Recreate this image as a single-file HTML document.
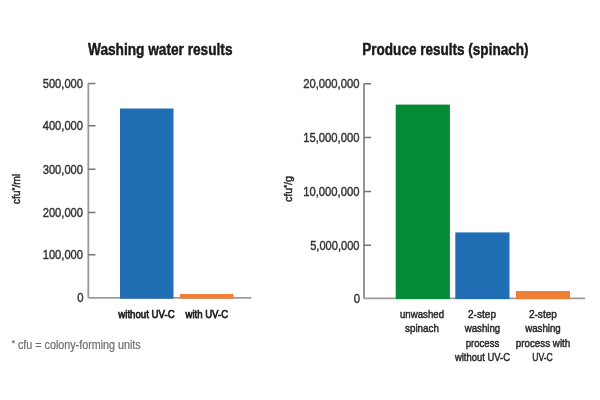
<!DOCTYPE html>
<html><head><meta charset="utf-8">
<style>
html,body{margin:0;padding:0;background:#fff;width:600px;height:400px;overflow:hidden}
svg{display:block;will-change:transform}
text{font-family:"Liberation Sans",sans-serif}
.t{font-weight:bold;font-size:15.6px;fill:#1a1a1a;stroke:#1a1a1a;stroke-width:0.45}
.y{font-size:12.2px;fill:#333;stroke:#333;stroke-width:0.4}
.xb{font-size:11.4px;fill:#222;stroke:#222;stroke-width:0.75}
.x{font-size:11.6px;fill:#2a2a2a;stroke:#2a2a2a;stroke-width:0.5}
.f{font-size:12px;fill:#6d6d6d;stroke:#6d6d6d;stroke-width:0.2}
.axl{stroke:#9a9a9a;stroke-width:1.8;fill:none}
.axr{stroke:#8a8a8a;stroke-width:1.8;fill:none}
.bl{stroke:#9c9c9c;stroke-width:1.8;fill:none}
.tk{stroke:#757575;stroke-width:1.5;fill:none}
</style></head>
<body>
<svg width="600" height="400" viewBox="0 0 600 400">
<rect width="600" height="400" fill="#fff"/>
<path class="axl" d="M88.3,83.5 V297.8"/>
<path class="bl" d="M88.3,297.8 H251.3"/>
<path class="tk" d="M88.3,83.55 H95.5 M88.3,125.7 H95.5 M88.3,169.15 H95.5 M88.3,212.45 H95.5 M88.3,254.7 H95.5"/>
<path class="axr" d="M364,83.75 V298.4"/>
<path class="bl" d="M364,298.4 H585"/>
<path class="tk" d="M364,83.75 H371 M364,137.45 H371 M364,191.45 H371 M364,245.2 H371"/>
<rect x="120" y="108.5" width="53.5" height="190.2" fill="#216eb4"/>
<rect x="180" y="294" width="53.5" height="4.7" fill="#ef7f36"/>
<rect x="395.7" y="104.6" width="54.2" height="194.4" fill="#058b35"/>
<rect x="455.3" y="232.4" width="54.2" height="66.6" fill="#216eb4"/>
<rect x="516" y="291" width="54" height="8" fill="#ef7f36"/>
<text class="t" x="88" y="55.4" textLength="144.5" lengthAdjust="spacingAndGlyphs">Washing water results</text>
<text class="t" x="362.3" y="55.4" textLength="166.2" lengthAdjust="spacingAndGlyphs">Produce results (spinach)</text>
<text class="y" x="83" y="88.05" text-anchor="end" textLength="40.3" lengthAdjust="spacingAndGlyphs">500,000</text>
<text class="y" x="83" y="130.2" text-anchor="end" textLength="40.3" lengthAdjust="spacingAndGlyphs">400,000</text>
<text class="y" x="83" y="173.65" text-anchor="end" textLength="40.3" lengthAdjust="spacingAndGlyphs">300,000</text>
<text class="y" x="83" y="216.95" text-anchor="end" textLength="40.3" lengthAdjust="spacingAndGlyphs">200,000</text>
<text class="y" x="83" y="259.4" text-anchor="end" textLength="40.3" lengthAdjust="spacingAndGlyphs">100,000</text>
<text class="y" x="83.5" y="302.1" text-anchor="end" textLength="6.3" lengthAdjust="spacingAndGlyphs">0</text>
<text class="y" x="359.5" y="88.25" text-anchor="end" textLength="56.3" lengthAdjust="spacingAndGlyphs">20,000,000</text>
<text class="y" x="359.5" y="141.95" text-anchor="end" textLength="56.3" lengthAdjust="spacingAndGlyphs">15,000,000</text>
<text class="y" x="359.5" y="195.95" text-anchor="end" textLength="56.3" lengthAdjust="spacingAndGlyphs">10,000,000</text>
<text class="y" x="359.5" y="249.7" text-anchor="end" textLength="49.3" lengthAdjust="spacingAndGlyphs">5,000,000</text>
<text class="y" x="360" y="302.5" text-anchor="end" textLength="6.3" lengthAdjust="spacingAndGlyphs">0</text>
<text class="xb" x="146.5" y="318" text-anchor="middle" textLength="56.4" lengthAdjust="spacingAndGlyphs">without UV-C</text>
<text class="xb" x="206.8" y="318" text-anchor="middle" textLength="42.6" lengthAdjust="spacingAndGlyphs">with UV-C</text>
<text class="f" x="11.7" y="348.7" textLength="129" lengthAdjust="spacingAndGlyphs"><tspan font-size="9.5px" dy="-3">*</tspan><tspan dy="3"> cfu = colony-forming units</tspan></text>
<text class="x" x="422" y="318" text-anchor="middle" textLength="44" lengthAdjust="spacingAndGlyphs">unwashed</text>
<text class="x" x="422" y="332" text-anchor="middle" textLength="34" lengthAdjust="spacingAndGlyphs">spinach</text>
<text class="x" x="482.0" y="317.9" text-anchor="middle" textLength="28" lengthAdjust="spacingAndGlyphs">2-step</text>
<text class="x" x="482.5" y="332" text-anchor="middle" textLength="35.5" lengthAdjust="spacingAndGlyphs">washing</text>
<text class="x" x="482.5" y="347" text-anchor="middle" textLength="33.5" lengthAdjust="spacingAndGlyphs">process</text>
<text class="x" x="482.5" y="361" text-anchor="middle" textLength="55.2" lengthAdjust="spacingAndGlyphs">without UV-C</text>
<text class="x" x="542.9" y="317.9" text-anchor="middle" textLength="28" lengthAdjust="spacingAndGlyphs">2-step</text>
<text class="x" x="543" y="332" text-anchor="middle" textLength="35.5" lengthAdjust="spacingAndGlyphs">washing</text>
<text class="x" x="543" y="347" text-anchor="middle" textLength="54.5" lengthAdjust="spacingAndGlyphs">process with</text>
<text class="x" x="542.5" y="361" text-anchor="middle" textLength="20.6" lengthAdjust="spacingAndGlyphs">UV-C</text>
<text class="x" x="0" y="0" text-anchor="middle" textLength="30.5" lengthAdjust="spacingAndGlyphs" transform="translate(19.7,189) rotate(-90)">cfu<tspan font-size="8px" dy="-2.5">*</tspan><tspan dy="2.5">/ml</tspan></text>
<text class="x" x="0" y="0" text-anchor="middle" textLength="26" lengthAdjust="spacingAndGlyphs" transform="translate(291.6,189) rotate(-90)">cfu<tspan font-size="8px" dy="-2.5">*</tspan><tspan dy="2.5">/g</tspan></text>
</svg>
</body></html>
